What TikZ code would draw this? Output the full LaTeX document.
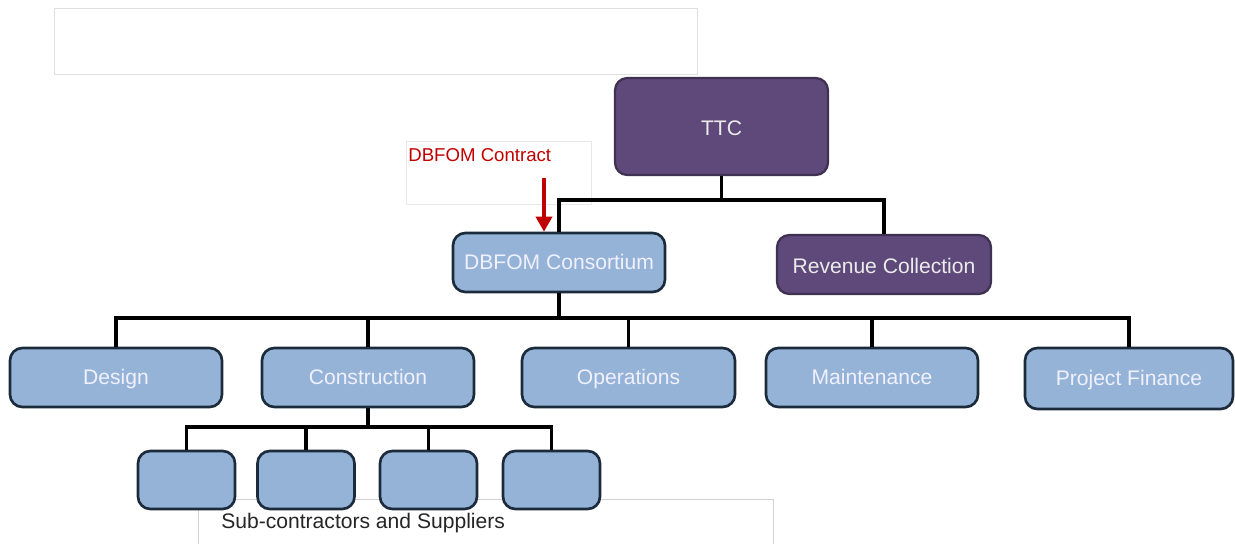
\documentclass[tikz,border=0pt]{standalone}
\usepackage{fontspec}
\setmainfont{Liberation Sans}
\usepackage{xcolor}
\usepackage{tikz}
\usetikzlibrary{arrows.meta, positioning, calc}
\definecolor{ttcpurple}{HTML}{5F497A}
\definecolor{ttcpurpleline}{HTML}{3F3151}
\definecolor{dbfomblue}{HTML}{95B3D7}
\definecolor{dbfomline}{HTML}{1C2B3C}
\definecolor{contractred}{HTML}{C00000}
\tikzset{
  ownerbox/.style={
    draw=ttcpurpleline, fill=ttcpurple, rounded corners=7pt, line width=1.3pt,
    align=center, text=white!92!black, inner sep=0pt,
    text height=2.05ex, text depth=0.1ex,
    font=\fontsize{12}{14}\selectfont
  },
  teambox/.style={
    draw=dbfomline, fill=dbfomblue, rounded corners=7pt, line width=1.5pt,
    align=center, text=white!94!blue, inner sep=0pt,
    text height=1.9ex, text depth=0.3ex,
    minimum width=4.24cm, minimum height=1.18cm,
    font=\fontsize{12}{14}\selectfont
  },
  subbox/.style={
    draw=dbfomline, fill=dbfomblue, rounded corners=7pt, line width=1.5pt,
    inner sep=0pt, minimum width=1.94cm, minimum height=1.16cm
  },
  framebox/.style={draw=gray!25, line width=0.5pt, inner sep=0pt},
  orgline/.style={line width=2.1pt, black},
  contractarrow/.style={-{Triangle[length=3mm, width=3.2mm]}, line width=2pt, color=contractred},
}
\begin{document}
\begin{tikzpicture}[x=0.02cm, y=-0.02cm]
  \useasboundingbox (0,0) rectangle (1235,544);

  % Frames
  \node[framebox, minimum width=12.86cm, minimum height=1.32cm] (topframe) at (375.5,41) {};
  \node[framebox, draw=gray!18, minimum width=3.7cm, minimum height=1.26cm] (contractframe) at (498.5,172.5) {};
  \draw[gray!35, line width=0.5pt] (198,560) |- (773,499) -- (773,560);
  \node[anchor=west, text=contractred, font=\fontsize{10.6}{12}\selectfont, inner sep=0pt] (contract) at (408,155) {DBFOM Contract};
  \node[anchor=west, text=black!85, font=\fontsize{12}{14}\selectfont, inner sep=0pt] (sublabel) at (221,523) {Sub-contractors and Suppliers};

  % Owner
  \node[ownerbox, minimum width=4.26cm, minimum height=1.94cm] (ttc) at (721.5,126.5) {TTC};
  \node[ownerbox, minimum width=4.28cm, minimum height=1.18cm] (rev) at (884,264.5) {Revenue Collection};
  \node[teambox] (cons) at (559,262.5) {DBFOM Consortium};

  % Teams
  \node[teambox] (design) at (116,377.5) {Design};
  \node[teambox] (constr) at (368,377.5) {Construction};
  \node[teambox, minimum width=4.26cm] (oper) at (628.5,377.5) {Operations};
  \node[teambox] (maint) at (872,377.5) {Maintenance};
  \node[teambox, minimum width=4.16cm, minimum height=1.22cm] (pfin) at (1129,378.5) {Project Finance};

  % Sub-contractors
  \node[subbox] (subA) at (186.5,480) {};
  \node[subbox] (subB) at (306,480) {};
  \node[subbox] (subC) at (428.5,480) {};
  \node[subbox] (subD) at (551.5,480) {};

  % Buses
  \coordinate (topbus) at (728,200);
  \coordinate (midbus) at (560,318);
  \coordinate (lowbus) at (373,427);

  % Connectors
  \draw[orgline] (ttc.south) -- (ttc.south |- topbus);
  \draw[orgline] (cons.north) |- (rev.north |- topbus) -- (rev.north);
  \draw[orgline] (cons.south) -- (cons.south |- midbus);
  \draw[orgline] (design.north) |- (pfin.north |- midbus) -- (pfin.north);
  \foreach \n in {constr, oper, maint}
    \draw[orgline] (\n.north) -- (\n.north |- midbus);
  \draw[orgline] (constr.south) -- (constr.south |- lowbus);
  \draw[orgline] (subA.north) |- (subD.north |- lowbus) -- (subD.north);
  \foreach \n in {subB, subC}
    \draw[orgline] (\n.north) -- (\n.north |- lowbus);

  % Contract
  \coordinate (arrowtop) at (544,178);
  \draw[contractarrow] (arrowtop) -- (arrowtop |- cons.north);
\end{tikzpicture}
\end{document}
